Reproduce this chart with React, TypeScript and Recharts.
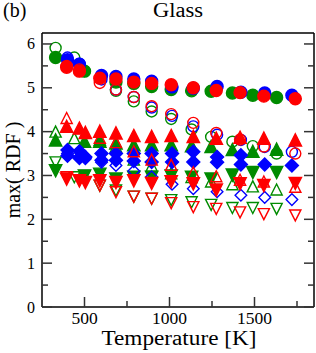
import React from 'react';
import { ScatterChart, Scatter, XAxis, YAxis, Label } from 'recharts';

const GREEN = '#008b00';
const BLUE = '#0000ff';
const RED = '#ff0000';
const FONT = '"Liberation Serif", "Times New Roman", serif';

// temperatures (K) per colour group
const tempGreen = [330, 440, 500, 590, 685, 790, 895, 1010, 1130, 1245, 1370, 1490, 1630];
const tempBlue = [400, 470, 505, 600, 685, 790, 895, 1015, 1140, 1280, 1420, 1560, 1720];
const tempRed = [395, 470, 505, 590, 685, 790, 895, 1010, 1140, 1275, 1415, 1555, 1740];

// green
const greenCircleFilled = [5.69, null, 5.38, null, 5.13, 5.1, 5.03, 4.96, 4.93, 4.92, 4.88, 4.83, 4.78];
const greenCircleOpen = [5.91, 5.69, 5.38, null, 4.93, 4.69, 4.46, 4.29, 4.05, 3.88, 3.77, 3.67, 3.5];
const greenUpFilled = [3.8, null, 3.77, 3.77, 3.73, 3.69, 3.69, 3.69, 3.67, 3.65, 3.58, 3.54, 3.59];
const greenUpOpen = [3.99, 3.84, null, 3.8, 3.65, 3.35, 3.21, 3.04, 2.95, 2.85, 2.79, 2.74, 2.67];
const greenDownFilled = [3.12, null, 3.0, 3.04, 2.93, 2.97, 2.97, 3.0, 2.97, 2.93, 3.02, 3.08, 3.08];
const greenDownOpen = [3.31, 2.97, 3.0, 2.78, 2.67, 2.53, 2.48, 2.45, 2.4, 2.34, 2.27, 2.27, 2.25];

// blue
const blueCircleFilled = [5.64, 5.54, null, 5.28, 5.26, 5.2, 5.15, 5.02, 4.99, 5.03, 4.9, 4.88, 4.83];
const blueCircleOpen = [5.69, 5.55, null, 5.19, 4.96, 4.79, 4.55, 4.36, 4.12, 3.93, 3.81, 3.65, 3.54];
const blueDiamondFilledA = [3.58, 3.55, 3.42, 3.5, 3.5, 3.5, 3.5, 3.5, 3.54, 3.42, 3.46, 3.25, 3.23];
const blueDiamondFilledB = [3.45, 3.4, null, 3.35, 3.35, 3.33, 3.31, 3.31, 3.31, 3.3, 3.25, null, null];
const blueDiamondOpen = [3.5, 3.42, 3.38, 3.3, 3.23, 3.1, 2.97, 2.8, 2.7, 2.63, 2.55, 2.5, 2.45];

// red
const redCircleFilled = [5.47, 5.38, null, 5.22, 5.2, 5.13, 5.1, 5.07, 5.0, 4.94, 4.89, 4.81, 4.75];
const redCircleOpen = [5.5, 5.42, null, 5.11, 4.96, 4.79, 4.58, 4.4, 4.2, 3.97, 3.82, 3.66, 3.5];
const redUpFilled = [4.11, 4.07, 3.97, 4.0, 3.96, 3.9, 3.88, 3.9, 3.88, 3.84, 3.86, 3.84, 3.8];
const redUpOpen = [4.3, null, null, 3.85, 3.75, 3.54, 3.35, 3.23, 3.06, 2.97, 2.89, 2.85, 2.73];
const redDownFilled = [2.93, 2.89, 2.85, 2.89, 2.85, 2.89, 2.83, 2.87, 2.82, 2.68, 2.82, 2.78, 2.83];
const redDownOpen = [2.97, 2.9, null, 2.78, 2.63, 2.53, 2.48, 2.38, 2.29, 2.25, 2.17, 2.13, 2.1];

const xTicks = [500, 750, 1000, 1250, 1500, 1750];
const yTicks = [0, 0.5, 1, 1.5, 2, 2.5, 3, 3.5, 4, 4.5, 5, 5.5, 6];

type Kind = 'circle' | 'up' | 'down' | 'diamond';

const pts = (t: number[], v: (number | null)[]) =>
  t.map((x, i) => ({ x, y: v[i] })).filter((d) => d.y != null);

const series: { key: string; t: number[]; v: (number | null)[]; kind: Kind; color: string; filled: boolean }[] = [
  { key: 'gdo', t: tempGreen, v: greenDownOpen, kind: 'down', color: GREEN, filled: false },
  { key: 'gdf', t: tempGreen, v: greenDownFilled, kind: 'down', color: GREEN, filled: true },
  { key: 'guo', t: tempGreen, v: greenUpOpen, kind: 'up', color: GREEN, filled: false },
  { key: 'guf', t: tempGreen, v: greenUpFilled, kind: 'up', color: GREEN, filled: true },
  { key: 'gco', t: tempGreen, v: greenCircleOpen, kind: 'circle', color: GREEN, filled: false },
  { key: 'gcf', t: tempGreen, v: greenCircleFilled, kind: 'circle', color: GREEN, filled: true },
  { key: 'bdo', t: tempBlue, v: blueDiamondOpen, kind: 'diamond', color: BLUE, filled: false },
  { key: 'bda', t: tempBlue, v: blueDiamondFilledA, kind: 'diamond', color: BLUE, filled: true },
  { key: 'bdb', t: tempBlue, v: blueDiamondFilledB, kind: 'diamond', color: BLUE, filled: true },
  { key: 'bco', t: tempBlue, v: blueCircleOpen, kind: 'circle', color: BLUE, filled: false },
  { key: 'bcf', t: tempBlue, v: blueCircleFilled, kind: 'circle', color: BLUE, filled: true },
  { key: 'rdo', t: tempRed, v: redDownOpen, kind: 'down', color: RED, filled: false },
  { key: 'rdf', t: tempRed, v: redDownFilled, kind: 'down', color: RED, filled: true },
  { key: 'ruo', t: tempRed, v: redUpOpen, kind: 'up', color: RED, filled: false },
  { key: 'ruf', t: tempRed, v: redUpFilled, kind: 'up', color: RED, filled: true },
  { key: 'rcf', t: tempRed, v: redCircleFilled, kind: 'circle', color: RED, filled: true },
  { key: 'rco', t: tempRed, v: redCircleOpen, kind: 'circle', color: RED, filled: false },
];

const marker = (kind: Kind, color: string, filled: boolean) => (p: any) => {
  const { cx, cy } = p;
  if (cx == null || cy == null) return <g />;
  const fill = filled ? color : 'none';
  const sw = 1.4;
  if (kind === 'circle') {
    return <circle cx={cx} cy={cy} r={filled ? 6 : 5.5} fill={fill} stroke={color} strokeWidth={sw} />;
  }
  if (kind === 'diamond') {
    const d = filled ? 6.5 : 5.8;
    return (
      <polygon
        points={`${cx},${cy - d} ${cx + d},${cy} ${cx},${cy + d} ${cx - d},${cy}`}
        fill={fill}
        stroke={color}
        strokeWidth={sw}
      />
    );
  }
  const w = filled ? 6.2 : 5.6;
  const h = filled ? 5.6 : 5;
  const pts =
    kind === 'up'
      ? `${cx},${cy - h - 1} ${cx + w},${cy + h} ${cx - w},${cy + h}`
      : `${cx},${cy + h + 1} ${cx + w},${cy - h} ${cx - w},${cy - h}`;
  return <polygon points={pts} fill={fill} stroke={color} strokeWidth={sw} />;
};

const BottomTick = (p: any) => {
  const v = p.payload.value;
  const major = v % 500 === 0;
  return (
    <g>
      <line x1={p.x} x2={p.x} y1={p.y} y2={p.y - (major ? 10 : 6)} stroke="#333" strokeWidth={1.5} />
      {major && (
        <text x={p.x} y={p.y + 17} textAnchor="middle" fontSize={17.5} fontFamily={FONT} fill="#000">
          {v}
        </text>
      )}
    </g>
  );
};

const TopTick = (p: any) => {
  const major = p.payload.value % 500 === 0;
  return <line x1={p.x} x2={p.x} y1={p.y} y2={p.y + (major ? 10 : 6)} stroke="#333" strokeWidth={1.5} />;
};

const LeftTick = (p: any) => {
  const v = p.payload.value;
  const major = Number.isInteger(v);
  return (
    <g>
      <line x1={p.x} x2={p.x + (major ? 10 : 6)} y1={p.y} y2={p.y} stroke="#333" strokeWidth={1.5} />
      {major && (
        <text x={p.x - 7} y={p.y + 5.5} textAnchor="end" fontSize={16} fontFamily={FONT} fill="#000">
          {v}
        </text>
      )}
    </g>
  );
};

const RightTick = (p: any) => {
  const major = Number.isInteger(p.payload.value);
  return <line x1={p.x} x2={p.x - (major ? 10 : 6)} y1={p.y} y2={p.y} stroke="#333" strokeWidth={1.5} />;
};

const axisLine = { stroke: '#000', strokeWidth: 1.5 };

export default function App() {
  return (
    <div style={{ position: 'absolute', left: 0, top: 0, width: 316, height: 353, background: '#fff' }}>
      <ScatterChart width={316} height={353} margin={{ top: 32, right: 1, bottom: 0, left: 0 }}>
        <XAxis
          xAxisId="b"
          type="number"
          dataKey="x"
          domain={[250, 1850]}
          ticks={xTicks}
          interval={0}
          tick={<BottomTick />}
          tickLine={false}
          tickSize={0}
          tickMargin={0}
          height={46}
          axisLine={axisLine}
          allowDataOverflow
        >
          <Label
            content={() => (
              <text
                x={179}
                y={345}
                textAnchor="middle"
                fontSize={20}
                fontFamily={FONT}
                fill="#000"
                textLength={155}
                lengthAdjust="spacingAndGlyphs"
              >
                Temperature [K]
              </text>
            )}
          />
        </XAxis>
        <XAxis
          xAxisId="t"
          orientation="top"
          type="number"
          domain={[250, 1850]}
          ticks={xTicks}
          interval={0}
          tick={<TopTick />}
          tickLine={false}
          tickSize={0}
          tickMargin={0}
          height={1}
          axisLine={axisLine}
          allowDataOverflow
        >
          <Label
            content={() => (
              <g>
                <text x={3} y={17} fontSize={20} fontFamily={FONT} fill="#000">
                  (b)
                </text>
                <text
                  x={178}
                  y={17}
                  textAnchor="middle"
                  fontSize={20}
                  fontFamily={FONT}
                  fill="#000"
                  textLength={50}
                  lengthAdjust="spacingAndGlyphs"
                >
                  Glass
                </text>
              </g>
            )}
          />
        </XAxis>
        <YAxis
          yAxisId="l"
          type="number"
          dataKey="y"
          domain={[0, 6.25]}
          ticks={yTicks}
          interval={0}
          tick={<LeftTick />}
          tickLine={false}
          tickSize={0}
          tickMargin={0}
          width={42}
          axisLine={axisLine}
          allowDataOverflow
        >
          <Label
            content={() => (
              <text
                x={20}
                y={170}
                transform="rotate(-90 20 170)"
                textAnchor="middle"
                fontSize={20}
                fontFamily={FONT}
                fill="#000"
              >
                max( RDF )
              </text>
            )}
          />
        </YAxis>
        <YAxis
          yAxisId="r"
          orientation="right"
          type="number"
          domain={[0, 6.25]}
          ticks={yTicks}
          interval={0}
          tick={<RightTick />}
          tickLine={false}
          tickSize={0}
          tickMargin={0}
          width={1}
          axisLine={axisLine}
          allowDataOverflow
        />
        {series.map((s) => (
          <Scatter
            key={s.key}
            xAxisId="b"
            yAxisId="l"
            data={pts(s.t, s.v)}
            shape={marker(s.kind, s.color, s.filled)}
            isAnimationActive={false}
          />
        ))}
      </ScatterChart>
    </div>
  );
}
